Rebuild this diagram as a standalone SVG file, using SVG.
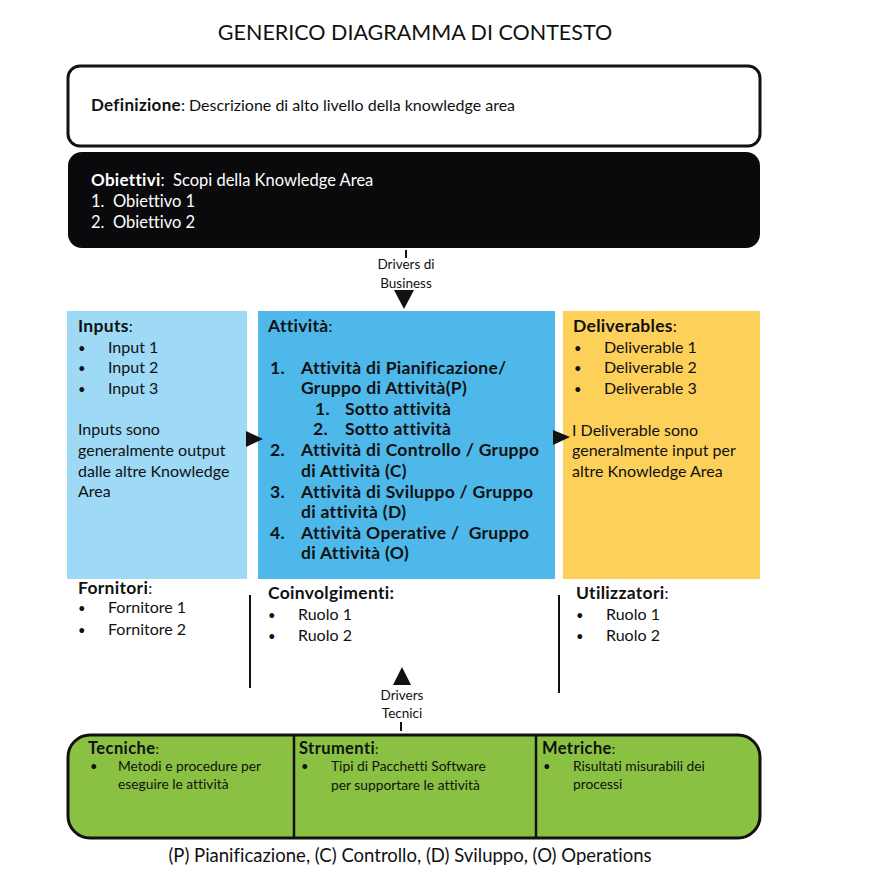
<svg xmlns="http://www.w3.org/2000/svg" width="879" height="879" viewBox="0 0 879 879">
<style>
text{font-family:Lato,"Open Sans","DejaVu Sans",sans-serif;fill:#111;font-variant-ligatures:none;}
.t{font-size:16px;}
.b{font-weight:bold;font-size:17.5px;letter-spacing:0.3px;}
.bt{font-weight:bold;font-size:17px;letter-spacing:0.3px;}
.w{fill:#fff;}
.s{font-size:13.8px;}
.h{font-weight:bold;font-size:16.5px;letter-spacing:0.4px;}
.c{text-anchor:middle;}
.d{font-size:13.5px;text-anchor:middle;}
.bu{font-size:13px;}
.ln{stroke:#111;stroke-width:2;fill:none;}
</style>
<rect width="879" height="879" fill="#fff"/>
<text x="415" y="40" class="c" style="font-size:21.5px">GENERICO DIAGRAMMA DI CONTESTO</text>

<g id="definizione">
<rect x="68" y="66" width="692" height="80" rx="12" fill="#fff" stroke="#111" stroke-width="3"/>
<text x="91" y="111" class="t"><tspan class="bt">Definizione</tspan>: Descrizione di alto livello della knowledge area</text>
</g>

<g id="obiettivi">
<rect x="68" y="152" width="692" height="96" rx="14" fill="#0a0a0c"/>
<text x="91" y="186" class="t w" style="font-size:16.5px"><tspan class="bt w">Obiettivi</tspan>:  <tspan x="173">Scopi della Knowledge Area</tspan></text>
<text x="91" y="207" class="t w" style="font-size:16.5px">1.<tspan x="113">Obiettivo 1</tspan></text>
<text x="91" y="228" class="t w" style="font-size:16.5px">2.<tspan x="113">Obiettivo 2</tspan></text>
</g>

<g id="inputs">
<rect x="67" y="311" width="180" height="268" fill="#9ed9f6"/>
<text x="78" y="332" class="t"><tspan class="b">Inputs</tspan>:</text>
<text x="78" y="353" class="bu">•</text><text x="108" y="353" class="t">Input 1</text>
<text x="78" y="373" class="bu">•</text><text x="108" y="373" class="t">Input 2</text>
<text x="78" y="394" class="bu">•</text><text x="108" y="394" class="t">Input 3</text>
<text x="78" y="435" class="t">Inputs sono</text>
<text x="78" y="456" class="t">generalmente output</text>
<text x="78" y="477" class="t">dalle altre Knowledge</text>
<text x="78" y="497" class="t">Area</text>
</g>

<g id="attivita">
<rect x="258" y="311" width="297" height="268" fill="#4fb8ea"/>
<text x="268" y="332" class="t"><tspan class="b">Attività</tspan>:</text>
<text x="270" y="374" class="b">1.</text><text x="301" y="374" class="b">Attività di Pianificazione/</text>
<text x="301" y="394" class="b">Gruppo di Attività(P)</text>
<text x="315" y="415" class="b">1.</text><text x="345" y="415" class="b">Sotto attività</text>
<text x="313" y="435" class="b">2.</text><text x="345" y="435" class="b">Sotto attività</text>
<text x="270" y="456" class="b">2.</text><text x="301" y="456" class="b">Attività di Controllo / Gruppo</text>
<text x="301" y="477" class="b">di Attività (C)</text>
<text x="270" y="498" class="b">3.</text><text x="301" y="498" class="b">Attività di Sviluppo / Gruppo</text>
<text x="301" y="518" class="b">di attività (D)</text>
<text x="270" y="539" class="b">4.</text><text x="301" y="539" class="b" xml:space="preserve">Attività Operative /  Gruppo</text>
<text x="301" y="559" class="b">di Attività (O)</text>
</g>

<g id="deliverables">
<rect x="563" y="311" width="197" height="268" fill="#fdd05a"/>
<text x="573" y="332" class="t"><tspan class="b">Deliverables</tspan>:</text>
<text x="574" y="353" class="bu">•</text><text x="604" y="353" class="t">Deliverable 1</text>
<text x="574" y="373" class="bu">•</text><text x="604" y="373" class="t">Deliverable 2</text>
<text x="574" y="394" class="bu">•</text><text x="604" y="394" class="t">Deliverable 3</text>
<text x="572" y="436" class="t">I Deliverable sono</text>
<text x="572" y="456" class="t">generalmente input per</text>
<text x="572" y="477" class="t">altre Knowledge Area</text>
</g>

<g id="fornitori">
<text x="78" y="594" class="t"><tspan class="b">Fornitori</tspan>:</text>
<text x="78" y="613" class="bu">•</text><text x="108" y="613" class="t">Fornitore 1</text>
<text x="78" y="635" class="bu">•</text><text x="108" y="635" class="t">Fornitore 2</text>
</g>

<g id="coinvolgimenti">
<text x="268" y="599" class="b">Coinvolgimenti:</text>
<text x="268" y="620" class="bu">•</text><text x="298" y="620" class="t">Ruolo 1</text>
<text x="268" y="641" class="bu">•</text><text x="298" y="641" class="t">Ruolo 2</text>
</g>

<g id="utilizzatori">
<text x="576" y="599" class="t"><tspan class="b">Utilizzatori</tspan>:</text>
<text x="576" y="620" class="bu">•</text><text x="606" y="620" class="t">Ruolo 1</text>
<text x="576" y="641" class="bu">•</text><text x="606" y="641" class="t">Ruolo 2</text>
</g>

<g id="strumenti-area">
<rect x="68" y="735" width="692" height="103" rx="22" fill="#8ac142" stroke="#111" stroke-width="3"/>
<line x1="294" y1="735" x2="294" y2="838" stroke="#111" stroke-width="2.5"/>
<line x1="536" y1="735" x2="536" y2="838" stroke="#111" stroke-width="2.5"/>
<text x="88" y="754" class="s"><tspan class="h">Tecniche</tspan>:</text>
<text x="90" y="771" class="bu">•</text>
<text x="118" y="771" class="s">Metodi e procedure per</text>
<text x="118" y="789" class="s">eseguire le attività</text>
<text x="299" y="754" class="s"><tspan class="h">Strumenti</tspan>:</text>
<text x="301" y="771" class="bu">•</text>
<text x="331" y="771" class="s">Tipi di Pacchetti Software</text>
<text x="331" y="790" class="s">per supportare le attività</text>
<text x="542" y="754" class="s"><tspan class="h">Metriche</tspan>:</text>
<text x="543" y="771" class="bu">•</text>
<text x="573" y="771" class="s">Risultati misurabili dei</text>
<text x="573" y="789" class="s">processi</text>
</g>

<g id="connectors">
<line x1="406" y1="250" x2="406" y2="258" class="ln" stroke-width="3"/>
<text x="406" y="269" class="d">Drivers di</text>
<text x="406" y="288" class="d">Business</text>
<path d="M394,290 L414,290 L404,309 Z" fill="#111"/>
<path d="M246,431 L263,439 L246,447 Z" fill="#111"/>
<path d="M553,430 L570,437 L553,445 Z" fill="#111"/>
<line x1="250" y1="595" x2="250" y2="688" class="ln"/>
<line x1="559" y1="595" x2="559" y2="693" class="ln"/>
<path d="M402,667 L411,685 L393,685 Z" fill="#111"/>
<text x="402" y="700" class="d">Drivers</text>
<text x="402" y="718" class="d">Tecnici</text>
<line x1="401" y1="722" x2="401" y2="731" class="ln" stroke-width="3"/>
</g>

<text x="410" y="862" class="c" style="font-size:18.5px">(P) Pianificazione, (C) Controllo, (D) Sviluppo, (O) Operations</text>
</svg>
